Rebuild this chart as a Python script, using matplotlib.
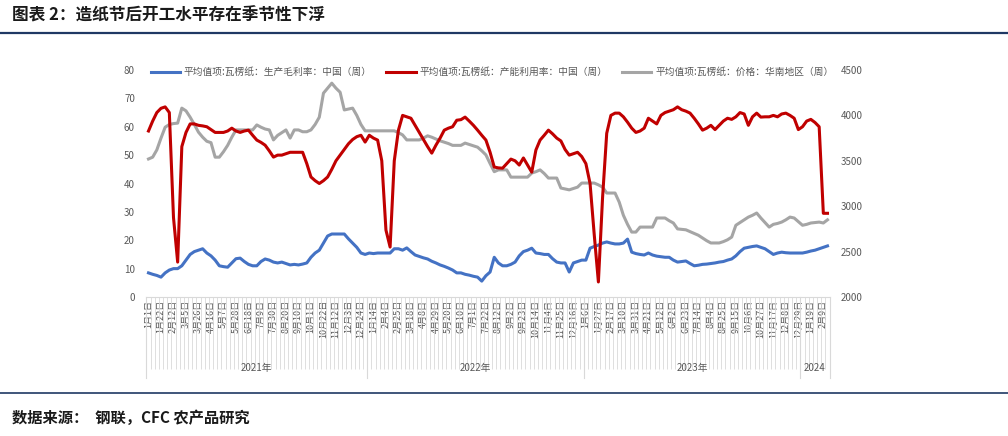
import numpy as np
import pandas as pd
import matplotlib
matplotlib.use("Agg")
import matplotlib.pyplot as plt
from matplotlib.transforms import blended_transform_factory

plt.rcParams['font.family'] = ['Noto Sans CJK SC', 'DejaVu Sans']

# weekly data, Fridays from 2021-01-01 to 2024-02-16
dates = pd.date_range("2021-01-01", periods=164, freq="7D")

margin = [  # 生产毛利率 (%)
    8.5, 8.0, 7.6, 7.0, 8.5, 9.5, 10.0, 10.0, 11.0, 13.0,
    15.0, 16.0, 16.5, 17.0, 15.5, 14.5, 13.0, 11.0, 10.7, 10.5,
    12.0, 13.5, 13.7, 12.5, 11.5, 11.0, 11.0, 12.5, 13.4, 13.0,
    12.3, 12.0, 12.3, 11.8, 11.3, 11.5, 11.3, 11.6, 12.0, 14.0,
    15.5, 16.5, 19.0, 21.5, 22.2, 22.2, 22.2, 22.2, 20.5, 19.0,
    17.5, 15.5, 15.0, 15.5, 15.3, 15.5, 15.5, 15.5, 15.5, 17.0,
    17.0, 16.5, 17.3, 16.0, 14.8, 14.3, 13.8, 13.4, 12.6, 12.0,
    11.3, 10.8, 10.2, 9.5, 8.5, 8.5, 8.0, 7.7, 7.3, 7.0,
    5.6, 7.5, 8.8, 14.0, 12.0, 11.0, 11.0, 11.5, 12.3, 14.5,
    16.0, 16.5, 17.2, 15.5, 15.3, 15.0, 15.0, 13.5, 12.3, 12.0,
    12.0, 8.8, 12.0, 12.5, 13.0, 13.0, 17.2, 17.8, 18.3, 19.0,
    19.4, 19.0, 18.7, 18.7, 19.0, 20.4, 15.8, 15.3, 15.0, 14.8,
    15.5, 14.8, 14.4, 14.2, 14.0, 14.0, 13.0, 12.3, 12.5, 12.7,
    11.8, 11.0, 11.2, 11.5, 11.6, 11.8, 12.0, 12.3, 12.5, 13.0,
    13.4, 14.5, 16.0, 17.2, 17.5, 17.8, 18.0, 17.5, 17.0, 16.0,
    15.0, 15.5, 15.8, 15.6, 15.5, 15.5, 15.5, 15.5, 15.8, 16.2,
    16.5, 17.0, 17.5, 18.0,
]

utilization = [  # 产能利用率 (%)
    58.5, 62.0, 65.0, 66.5, 67.0, 65.0, 28.0, 12.3, 53.0, 58.0,
    61.0, 61.0, 60.5, 60.3, 60.0, 59.0, 58.0, 58.0, 58.0, 58.5,
    59.5, 58.5, 58.0, 58.5, 58.8, 57.0, 55.3, 54.5, 53.5, 51.5,
    49.3, 50.0, 50.0, 50.5, 51.0, 51.0, 51.0, 51.0, 47.0, 42.3,
    41.0, 40.0, 41.0, 42.3, 45.0, 48.0, 50.0, 52.0, 54.0, 55.5,
    56.5, 57.0, 54.6, 57.0, 56.0, 55.3, 48.0, 23.6, 17.6, 48.0,
    58.8, 64.0, 63.5, 63.0, 60.5, 58.0, 55.5, 53.0, 50.7, 53.5,
    56.0, 58.8, 59.5, 60.0, 62.3, 62.5, 63.4, 62.0, 60.5, 58.8,
    57.0, 55.3, 51.0, 45.8, 45.5, 45.4, 47.0, 48.6, 48.0, 46.5,
    49.0, 46.5, 44.0, 51.8, 55.3, 57.0, 58.8, 57.5, 56.0, 55.0,
    52.0, 50.0, 50.5, 51.0, 49.5, 47.0, 40.0, 22.0, 5.3, 35.0,
    57.7, 64.0, 64.8, 64.8, 63.5, 61.6, 59.5, 58.0, 58.5, 59.5,
    63.0, 62.0, 61.0, 64.0, 65.0, 65.5, 66.0, 67.0, 66.0, 65.5,
    64.8, 63.0, 61.0, 58.8, 59.5, 60.5, 59.0, 60.5, 62.0, 63.0,
    62.6, 63.5, 65.0, 64.5, 60.5, 63.5, 64.8, 63.4, 63.5, 63.5,
    64.0, 63.5, 64.5, 64.8, 64.0, 63.0, 59.0, 60.0, 62.0, 62.6,
    61.5, 60.0, 29.5, 29.5,
]

price = [  # 价格：华南地区 (元/吨)
    3520, 3540, 3620, 3750, 3870, 3900, 3910, 3915, 4080, 4050,
    3980, 3900, 3815, 3760, 3715, 3700, 3540, 3540, 3600, 3670,
    3760, 3840, 3840, 3840, 3840, 3840, 3895, 3870, 3850, 3840,
    3730, 3780, 3810, 3840, 3750, 3840, 3840, 3820, 3820, 3840,
    3900, 3980, 4245, 4300, 4355, 4300, 4255, 4060, 4070, 4080,
    4000, 3900, 3830, 3830, 3830, 3830, 3830, 3830, 3830, 3830,
    3810, 3785, 3730, 3730, 3730, 3730, 3750, 3775, 3760, 3740,
    3720, 3705, 3690, 3670, 3670, 3670, 3695, 3680, 3665, 3650,
    3610, 3565, 3470, 3380, 3400, 3400, 3400, 3320, 3320, 3320,
    3320, 3320, 3365, 3380, 3400, 3360, 3310, 3310, 3310, 3200,
    3190, 3180, 3195, 3210, 3255, 3255, 3255, 3255, 3235, 3210,
    3145, 3145, 3145, 3045, 2900, 2800, 2715, 2715, 2770, 2770,
    2770, 2770, 2870, 2870, 2870, 2840, 2815, 2750, 2745, 2740,
    2720, 2700, 2680, 2650, 2620, 2595, 2595, 2595, 2610, 2630,
    2660, 2790, 2820, 2850, 2880, 2900, 2925, 2870, 2820, 2770,
    2800, 2810, 2825, 2850, 2880, 2870, 2830, 2790, 2800, 2815,
    2820, 2825, 2815, 2850,
]

years = ["2021年", "2022年", "2023年", "2024"]

W, H = 1008, 436
fig = plt.figure(figsize=(W / 100, H / 100), dpi=100)

# header / footer
fig.text(12 / W, 1 - 15 / H, "图表 2：造纸节后开工水平存在季节性下浮", fontsize=12,
         fontweight="bold", color="#1a1a1a", va="center")
fig.add_artist(plt.Line2D([0, 1], [1 - 33 / H] * 2, color="#1f3864", lw=1.6))
fig.add_artist(plt.Line2D([0, 1], [1 - 393 / H] * 2, color="#1f3864", lw=1.2))
fig.text(12 / W, 1 - 418 / H, "数据来源：  钢联，CFC 农产品研究", fontsize=11,
         fontweight="bold", color="#1a1a1a", va="center", fontstyle="italic")

x = np.arange(len(dates))
ax = fig.add_axes([146 / W, 1 - 297 / H, (830 - 146) / W, (297 - 70) / H])
ax2 = ax.twinx()

l1, = ax.plot(x, margin, color="#4472c4", lw=2.2, label="平均值项:瓦楞纸：生产毛利率：中国（周）")
l2, = ax.plot(x, utilization, color="#c00000", lw=2.2, label="平均值项:瓦楞纸：产能利用率：中国（周）")
l3, = ax2.plot(x, price, color="#a5a5a5", lw=2.2, label="平均值项:瓦楞纸：价格：华南地区（周）")
ax.set_zorder(ax2.get_zorder() + 1)
ax.patch.set_visible(False)

ax.set_xlim(-0.6, len(x) - 0.4)
ax.set_ylim(0, 80)
ax.set_yticks(range(0, 81, 10))
ax2.set_ylim(2000, 4500)
ax2.set_yticks(range(2000, 4501, 500))

for a in (ax, ax2):
    for s in a.spines.values():
        s.set_visible(False)
    a.tick_params(axis="y", length=0, labelsize=7, labelcolor="#595959", pad=8)
ax.spines["bottom"].set_visible(True)
ax.spines["bottom"].set_color("#d9d9d9")

labels = [f"{d.month}月{d.day}日" for d in dates]
ax.set_xticks(x[::3])
ax.set_xticklabels(labels[::3], rotation=90, fontsize=6.5, color="#595959")
ax.set_xticks(np.arange(-0.5, len(x)), minor=True)
ax.tick_params(axis="x", which="major", length=0, pad=2)
ax.tick_params(axis="x", which="minor", length=52, color="#d9d9d9", width=0.6)

# year groups
tr = blended_transform_factory(ax.transData, fig.transFigure)
starts = [0] + [i for i in range(1, len(dates)) if dates[i].year != dates[i - 1].year] + [len(dates)]
for k in range(len(starts) - 1):
    b = starts[k] - 0.5
    fig.add_artist(plt.Line2D([b, b], [1 - 297 / H, 1 - 378 / H], transform=tr,
                              color="#d9d9d9", lw=0.8))
    mid = (starts[k] + starts[k + 1] - 1) / 2
    fig.text(mid, 1 - 368 / H, years[k], transform=tr, ha="center", va="center",
             fontsize=7, color="#595959")
b = len(dates) - 0.5
fig.add_artist(plt.Line2D([b, b], [1 - 297 / H, 1 - 378 / H], transform=tr,
                          color="#d9d9d9", lw=0.8))

fig.legend(handles=[l1, l2, l3], loc="center", bbox_to_anchor=(492 / W, 1 - 72 / H),
           ncol=3, frameon=False, fontsize=7, handlelength=3.0, columnspacing=1.5,
           handletextpad=0.4, labelcolor="#595959")

fig.savefig("out.png", dpi=100)
